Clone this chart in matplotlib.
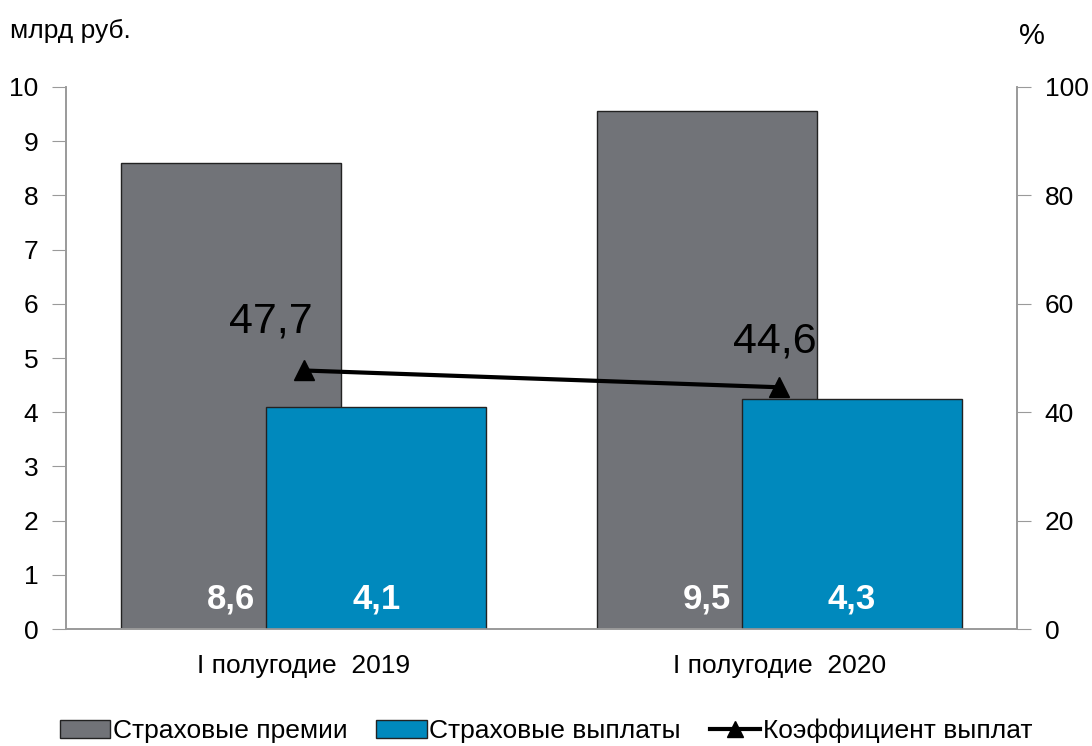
import numpy as np
import matplotlib.pyplot as plt

plt.rcParams['font.family'] = ['Liberation Sans', 'DejaVu Sans']

categories = ['I полугодие  2019', 'I полугодие  2020']
premiums = [8.6, 9.55]
payouts = [4.1, 4.25]
premium_labels = ['8,6', '9,5']
payout_labels = ['4,1', '4,3']
ratio = [47.7, 44.6]
ratio_labels = ['47,7', '44,6']

grey = '#717378'
blue = '#0089bd'
axcol = '#9a9a9a'

fig = plt.figure(figsize=(10.92, 7.46), dpi=100)
ax = fig.add_axes([0.0604, 0.1568, 0.8709, 0.7266])
ax2 = ax.twinx()

x = np.arange(len(categories))
w = 0.463
off = 0.1525

ax.bar(x - off, premiums, w, color=grey, edgecolor='#222222', linewidth=1, zorder=2,
       label='Страховые премии')
ax.bar(x + off, payouts, w, color=blue, edgecolor='#222222', linewidth=1, zorder=3,
       label='Страховые выплаты')

for i in range(len(x)):
    ax.text(x[i] - off, 0.55, premium_labels[i], color='white', fontsize=25,
            fontweight='bold', ha='center', va='center', zorder=4)
    ax.text(x[i] + off, 0.55, payout_labels[i], color='white', fontsize=25,
            fontweight='bold', ha='center', va='center', zorder=4)

ax.set_xlim(-0.5, 1.5)
ax.set_ylim(0, 10)
ax.set_yticks(range(0, 11))
ax.set_xticks(x)
ax.set_xticklabels(categories, fontsize=19)
ax.tick_params(axis='x', length=0, pad=18)
ax.tick_params(axis='y', labelsize=19, length=10, color=axcol, pad=10)

# line on the right axis, drawn above bars
ax2.set_zorder(ax.get_zorder() + 1)
ax2.patch.set_visible(False)
line, = ax2.plot(x, ratio, color='black', lw=3, marker='^', markersize=14,
                 label='Коэффициент выплат')
label_offsets = [(-24, 35), (-3, 33)]
for i in range(len(x)):
    ax2.annotate(ratio_labels[i], (x[i], ratio[i]), xytext=label_offsets[i],
                 textcoords='offset points', ha='center', va='center', fontsize=31)
ax2.set_ylim(0, 100)
ax2.set_yticks(range(0, 101, 20))
ax2.tick_params(axis='y', labelsize=19, length=10, color=axcol, pad=10)

for a in (ax, ax2):
    a.spines['top'].set_visible(False)
    for s in ('left', 'right', 'bottom'):
        a.spines[s].set_color(axcol)
        a.spines[s].set_linewidth(1.2)

fig.text(0.009, 0.958, 'млрд руб.', fontsize=19, ha='left', va='center')
fig.text(0.945, 0.952, '%', fontsize=21, ha='center', va='center')

h1, l1 = ax.get_legend_handles_labels()
fig.legend(h1 + [line], l1 + [line.get_label()], loc='center', bbox_to_anchor=(0.5, 0.02),
           ncol=3, frameon=False, fontsize=19, handlelength=1.9, handletextpad=0.1,
           columnspacing=1.1, markerscale=0.8)

fig.savefig('out.png', dpi=100)
